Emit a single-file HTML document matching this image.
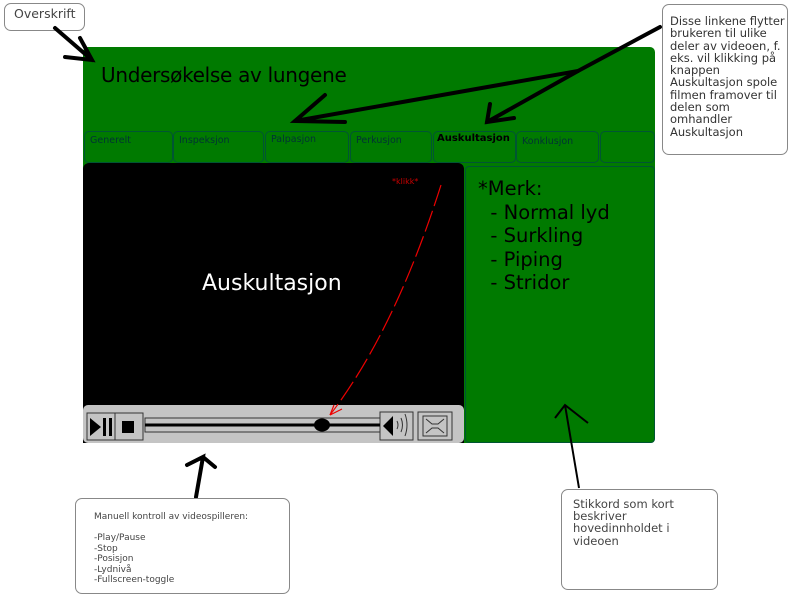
<!DOCTYPE html>
<html><head><meta charset="utf-8"><style>
*{margin:0;padding:0;box-sizing:border-box}
body{width:800px;height:601px;background:#fff;position:relative;overflow:hidden;font-family:"DejaVu Sans","Liberation Sans",sans-serif}
.a{position:absolute}
.call{position:absolute;background:#fff;border:1px solid #888;border-radius:7px;color:#444;font-size:11px;line-height:12px}
.tab{position:absolute;top:131px;height:32px;border:1px solid #053;border-radius:5px;background:#007a00;font-size:9.5px;color:#033;padding:3px 5px;white-space:nowrap;overflow:hidden}
</style></head><body>
<div class="call" style="left:4px;top:3px;width:81px;height:28px;padding:4px 9px;font-size:12.5px">Overskrift</div>
<div class="a" style="left:83px;top:47px;width:572px;height:396px;background:#007a00;border-radius:5px"></div>
<div class="a" style="left:101px;top:63px;font-size:20px;color:#000;letter-spacing:-0.3px">Undersøkelse av lungene</div>
<div class="tab" style="left:84px;width:89px">Generelt</div>
<div class="tab" style="left:173px;width:91px">Inspeksjon</div>
<div class="tab" style="left:265px;width:84px;padding-top:2px">Palpasjon</div>
<div class="tab" style="left:350px;width:82px">Perkusjon</div>
<div class="tab" style="left:433px;width:83px;font-weight:bold;font-size:10px;color:#000;padding:1px 3px">Auskultasjon</div>
<div class="tab" style="left:516px;width:83px;padding-top:4px">Konklusjon</div>
<div class="tab" style="left:600px;width:55px"></div>
<div class="a" style="left:83px;top:163px;width:381px;height:280px;background:#000;border-radius:6px 6px 0 0"></div>
<div class="a" style="left:202px;top:271px;font-size:22px;color:#fff">Auskultasjon</div>
<div class="a" style="left:392px;top:177px;font-size:8px;color:#c00">*klikk*</div>
<div class="a" style="left:465px;top:166px;width:190px;height:277px;background:#007a00;border:1px solid #053;border-radius:4px;font-size:19.5px;line-height:23.5px;color:#000;padding:10px 0 0 12px;white-space:pre">*Merk:
  - Normal lyd
  - Surkling
  - Piping
  - Stridor</div>
<div class="a" style="left:83px;top:405px;width:381px;height:38px;background:#c4c4c4;border-radius:5px"></div>
<svg class="a" style="left:0;top:0" width="800" height="601">
<g fill="none" stroke="#333" stroke-width="1">
<rect x="87" y="413" width="28" height="27" fill="#c4c4c4"/>
<rect x="115" y="413" width="28" height="27"/>
<rect x="145" y="418" width="235" height="14"/>
<rect x="380" y="412" width="33" height="28"/>
<rect x="418" y="412" width="34" height="28"/>
<rect x="423" y="416" width="24" height="20"/>
</g>
<polygon points="90,418 90,436 101,427" fill="#000"/>
<rect x="103" y="418" width="3" height="18" fill="#000"/>
<rect x="109" y="418" width="3" height="18" fill="#000"/>
<rect x="122" y="421" width="12" height="12" fill="#000"/>
<line x1="145" y1="425" x2="380" y2="425" stroke="#000" stroke-width="3"/>
<ellipse cx="322" cy="425" rx="8" ry="6.5" fill="#000"/>
<polygon points="383,426 393,416 393,436" fill="#000"/>
<path d="M397,421 q2,4 0,8 M401,418 q3,7 0,14 M405,414 q4,11 0,22" stroke="#333" fill="none"/>
<path d="M426,419 l6,5 h6 l6,-5 M426,433 l6,-5 h6 l6,5" stroke="#333" fill="none"/>
<path d="M441,185 Q395,330 330,415" stroke="#e00" stroke-width="1.2" fill="none" stroke-dasharray="22,5"/>
<path d="M330,415 l4,-10 M330,415 l12,-6" stroke="#e00" stroke-width="1.2"/>
<g stroke="#000" stroke-width="4" fill="none" stroke-linecap="round">
<path d="M55,28 L92,60 M80,38 L92,60 L65,57"/>
<path d="M660,27 L578,71 L295,121 M325,95 L295,121 L345,122"/>
<path d="M578,71 L487,122 M490,104 L487,122 L514,118"/>
<path d="M196,497 L203,457 L187,465 M203,457 L215,467"/>
</g>
<path d="M579,488 L565,405 M555,418 L565,405 L588,423" stroke="#000" stroke-width="2" fill="none"/>
</svg>
<div class="call" style="left:662px;top:4px;width:126px;height:151px;padding:10px 0 0 7px;font-size:11.5px;line-height:12.3px;color:#333">Disse linkene flytter brukeren til ulike deler av videoen, f. eks. vil klikking på knappen Auskultasjon spole filmen framover til delen som omhandler Auskultasjon</div>
<div class="call" style="left:75px;top:498px;width:215px;height:96px;padding:13px 0 0 18px;font-size:9px;line-height:10.5px;white-space:pre">Manuell kontroll av videospilleren:

-Play/Pause
-Stop
-Posisjon
-Lydnivå
-Fullscreen-toggle</div>
<div class="call" style="left:561px;top:489px;width:157px;height:101px;padding:8px 0 0 11px;font-size:11.5px;line-height:12.2px;white-space:pre">Stikkord som kort
beskriver
hovedinnholdet i
videoen</div>
</body></html>
